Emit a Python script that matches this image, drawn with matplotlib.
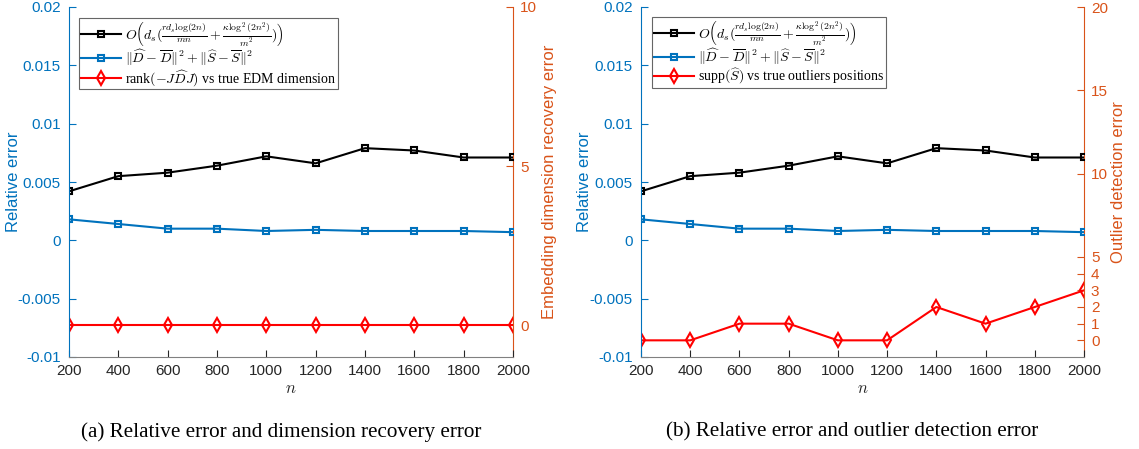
import matplotlib
matplotlib.use("Agg")
import matplotlib.pyplot as plt
import numpy as np

n_vals = [200, 400, 600, 800, 1000, 1200, 1400, 1600, 1800, 2000]
bound_vals = [0.0042, 0.0055, 0.0058, 0.0064, 0.0072, 0.0066, 0.0079, 0.0077, 0.0071, 0.0071]
err_vals = [0.0018, 0.0014, 0.0010, 0.0010, 0.0008, 0.0009, 0.0008, 0.0008, 0.0008, 0.0007]
dim_err = [0, 0, 0, 0, 0, 0, 0, 0, 0, 0]
outlier_err = [0, 0, 1, 1, 0, 0, 2, 1, 2, 3]

left_ticks = [-0.01, -0.005, 0, 0.005, 0.01, 0.015, 0.02]
left_ticklabels = ['-0.01', '-0.005', '0', '0.005', '0.01', '0.015', '0.02']
right_ticks_a = [0, 5, 10]
right_ticks_b = [0, 1, 2, 3, 4, 5, 10, 15, 20]

lbl_bound = r'$O\left(d_s(\frac{rd_s\log(2n)}{mn}+\frac{\kappa\log^2(2n^2)}{m^2})\right)$'
lbl_err = r'$\Vert\widehat{D}-\overline{D}\Vert^2+\Vert\widehat{S}-\overline{S}\Vert^2$'
lbl_dim = r'rank$(-J\widehat{D}J)$ vs true EDM dimension'
lbl_out = r'supp$(\widehat{S})$ vs true outliers positions'

plt.rcParams['mathtext.fontset'] = 'cm'
plt.rcParams['font.family'] = ['Liberation Sans', 'DejaVu Sans']

BLUE = '#0072BD'
ORANGE = '#D95319'
GRAY = '#262626'

fig = plt.figure(figsize=(11.39, 4.49), dpi=100)
W, H = 1139, 449
TOP, BOT = 7, 357

def make(px0, px1, right_lim, right_ticks, red, red_label, right_label, caption,
         leg_px, lab_l, lab_r, cap_x):
    w = px1 - px0
    ax = fig.add_axes([px0 / W, 1 - BOT / H, w / W, (BOT - TOP) / H])
    ax.plot(n_vals, bound_vals, '-s', color='k', lw=1.5, ms=5, mfc='none', mew=1.5, label=lbl_bound)
    ax.plot(n_vals, err_vals, '-s', color=BLUE, lw=1.5, ms=5, mfc='none', mew=1.5, label=lbl_err)
    ax.set_xlim(200, 2000)
    ax.set_ylim(-0.01, 0.02)
    ax.set_yticks(left_ticks)
    ax.set_yticklabels(left_ticklabels)
    ax.set_xticks(n_vals)
    ax.tick_params(axis='y', direction='in', colors=BLUE, labelsize=11, length=5, pad=6)
    ax.tick_params(axis='x', direction='in', colors=GRAY, labelsize=11, length=5, pad=5)
    ax.spines['left'].set_color(BLUE)
    ax.spines['bottom'].set_color('#808080')
    ax.spines['top'].set_visible(False)
    ax.spines['right'].set_visible(False)
    ax.set_ylabel('Relative error', color=BLUE, fontsize=12)
    ax.yaxis.set_label_coords(-(px0 - lab_l) / w, 0.5)
    ax.set_xlabel(r'$n$', fontsize=12, color=GRAY, labelpad=2)
    ax2 = ax.twinx()
    ax2.plot(n_vals, red, '-d', color='r', lw=1.5, ms=7, mfc='none', mew=1.5, label=red_label)
    ax2.set_ylim(*right_lim)
    ax2.set_yticks(right_ticks)
    ax2.tick_params(axis='y', direction='in', colors=ORANGE, labelsize=11, length=5, pad=5)
    ax2.spines['right'].set_color(ORANGE)
    for s in ['top', 'left', 'bottom']:
        ax2.spines[s].set_visible(False)
    ax2.set_ylabel(right_label, color=ORANGE, fontsize=12)
    ax2.yaxis.set_label_coords(1 + (lab_r - px1) / w, 0.5)
    ax2.set_zorder(ax.get_zorder() - 1)
    ax.patch.set_visible(False)
    h1, l1 = ax.get_legend_handles_labels()
    h2, l2 = ax2.get_legend_handles_labels()
    lx, ly = leg_px
    leg = ax.legend(h1 + h2, l1 + l2, loc='upper left',
                    bbox_to_anchor=((lx - px0) / w, 1 - (ly - TOP) / (BOT - TOP)),
                    prop={'family': 'Liberation Serif', 'size': 10}, frameon=True,
                    fancybox=False, edgecolor='#404040', handlelength=2.9,
                    handletextpad=0.3, borderpad=0.12, labelspacing=0.0, borderaxespad=0)
    leg.get_frame().set_linewidth(0.8)
    fig.text(cap_x / W, 1 - 432 / H, caption, ha='center', va='center',
             fontsize=15.2, family='Liberation Serif')
    return ax, ax2

make(69, 513, (-1, 10), right_ticks_a, dim_err, lbl_dim,
     'Embedding dimension recovery error', '(a) Relative error and dimension recovery error',
     (79, 18), 21, 542, 281)
make(641, 1084, (-1, 20), right_ticks_b, outlier_err, lbl_out,
     'Outlier detection error', '(b) Relative error and outlier detection error',
     (652, 17), 592, 1111, 852)

fig.savefig('out.png', dpi=100)
